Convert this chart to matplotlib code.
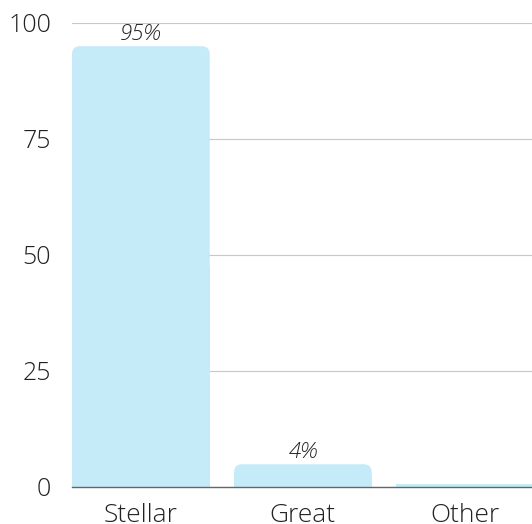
import matplotlib.pyplot as plt
from matplotlib.patches import FancyBboxPatch, Rectangle

# data
categories = ['Stellar', 'Great', 'Other']
values = [95, 4.8, 0.5]
value_labels = ['95%', '4%', '']
y_ticks = [0, 25, 50, 75, 100]

bar_color = '#c5eaf8'
text_color = '#222222'

plt.rcParams['font.family'] = ['Open Sans', 'DejaVu Sans']

fig = plt.figure(figsize=(5.32, 5.24), dpi=100)
ax = fig.add_axes([72 / 532, 37.5 / 524, 1 - 72 / 532, (486.5 - 23) / 524])

bar_width = 0.85
x = list(range(len(categories)))
bars = ax.bar(x, values, width=bar_width, color=bar_color, zorder=2)

# replace the square bars with top-rounded ones
radius = 0.05          # x units
aspect = 35.0          # y units per x unit on screen
for b in bars:
    b.set_visible(False)
    x0, w, h = b.get_x(), b.get_width(), b.get_height()
    if h > 2 * radius * aspect:
        ax.add_patch(FancyBboxPatch((x0, 0), w, h,
                                    boxstyle=f'round,pad=0,rounding_size={radius}',
                                    mutation_aspect=aspect, fc=bar_color, ec='none', zorder=2))
        ax.add_patch(Rectangle((x0, 0), w, h / 2, fc=bar_color, ec='none', zorder=2))
    else:
        ax.add_patch(Rectangle((x0, 0), w, h, fc=bar_color, ec='none', zorder=2))

for xi, v, lab in zip(x, values, value_labels):
    if lab:
        ax.text(xi, v + 0.2, lab, ha='center', va='bottom', fontsize=16,
                style='italic', color=text_color, fontweight='light')

ax.set_xlim(-bar_width / 2, -bar_width / 2 + 460 / 162)
ax.set_ylim(0, 100)
ax.set_yticks(y_ticks)
ax.set_xticks(x)
ax.set_xticklabels(categories)
ax.tick_params(axis='y', length=0, pad=15, labelsize=18, labelcolor=text_color)
ax.tick_params(axis='x', length=0, pad=12, labelsize=19, labelcolor=text_color)
for lab in ax.get_xticklabels() + ax.get_yticklabels():
    lab.set_fontweight('light')

ax.grid(axis='y', color='#c8c8c8', linewidth=0.8, zorder=0)
ax.set_axisbelow(True)
for side in ['top', 'right', 'left']:
    ax.spines[side].set_visible(False)
ax.spines['bottom'].set_color('#666666')
ax.spines['bottom'].set_linewidth(1)
ax.spines['bottom'].set_zorder(3)

fig.savefig('out.png', dpi=100)
